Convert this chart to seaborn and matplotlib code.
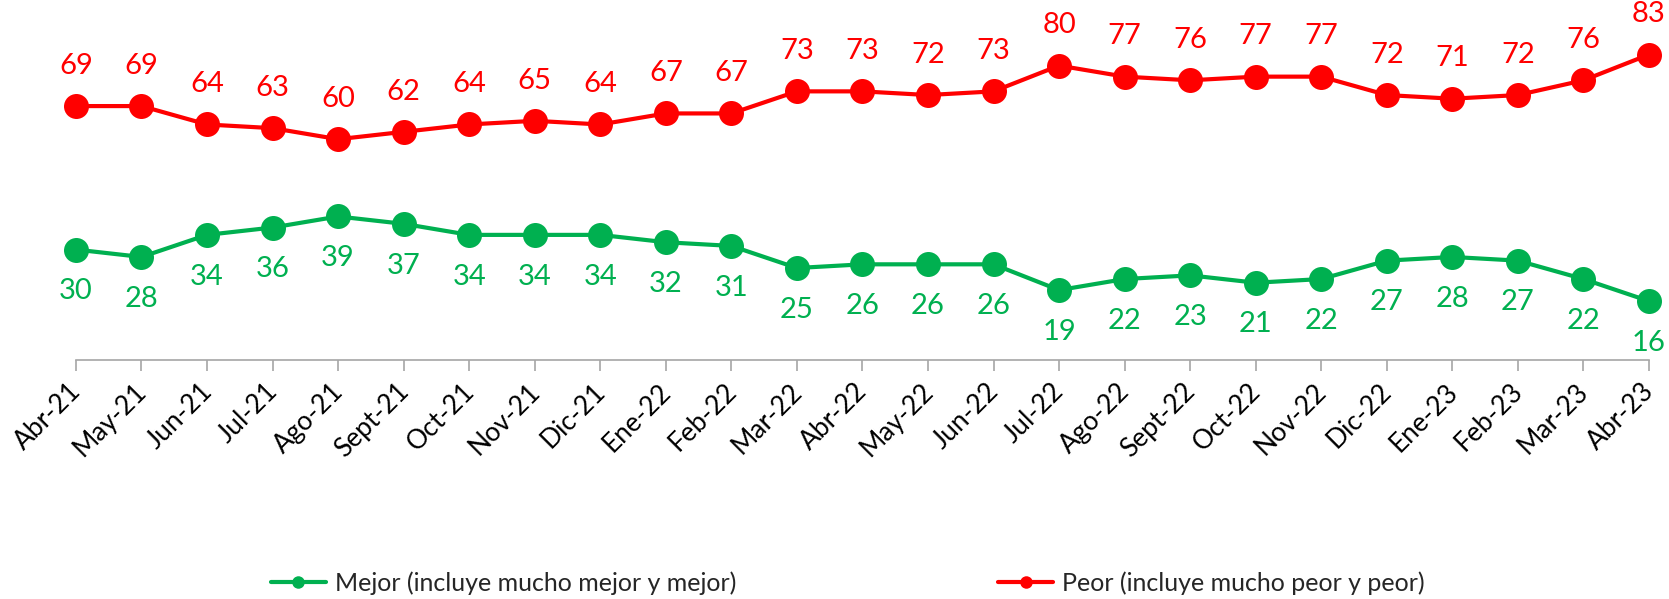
import pandas as pd
import matplotlib
matplotlib.use('Agg')
import matplotlib.pyplot as plt
import matplotlib.transforms as mtransforms
import seaborn as sns

# data
meses = ['Abr-21', 'May-21', 'Jun-21', 'Jul-21', 'Ago-21', 'Sept-21', 'Oct-21',
         'Nov-21', 'Dic-21', 'Ene-22', 'Feb-22', 'Mar-22', 'Abr-22', 'May-22',
         'Jun-22', 'Jul-22', 'Ago-22', 'Sept-22', 'Oct-22', 'Nov-22', 'Dic-22',
         'Ene-23', 'Feb-23', 'Mar-23', 'Abr-23']
mejor = [30, 28, 34, 36, 39, 37, 34, 34, 34, 32, 31, 25, 26, 26, 26, 19, 22, 23,
         21, 22, 27, 28, 27, 22, 16]
peor = [69, 69, 64, 63, 60, 62, 64, 65, 64, 67, 67, 73, 73, 72, 73, 80, 77, 76,
        77, 77, 72, 71, 72, 76, 83]

lbl_mejor = 'Mejor (incluye mucho mejor y mejor)'
lbl_peor = 'Peor (incluye mucho peor y peor)'

df = pd.DataFrame({
    'mes': meses * 2,
    'valor': mejor + peor,
    'serie': [lbl_mejor] * len(meses) + [lbl_peor] * len(meses),
})

verde = '#00B050'
rojo = '#FF0000'

sns.set_style('white')
plt.rcParams['font.family'] = ['Lato', 'DejaVu Sans']

fig = plt.figure(figsize=(16.69, 5.99), dpi=100)
ax = fig.add_axes([0.0455, 1 - 360 / 599, 0.988 - 0.0455, (360 - 28.8) / 599])

sns.lineplot(data=df, x='mes', y='valor', hue='serie',
             palette={lbl_mejor: verde, lbl_peor: rojo},
             marker='o', markersize=18, markeredgewidth=0, linewidth=3,
             ax=ax, clip_on=False)

for i, v in enumerate(peor):
    ax.annotate(str(v), (i, v), xytext=(0, 29), textcoords='offset points',
                ha='center', va='center', fontsize=21, color=rojo)
for i, v in enumerate(mejor):
    ax.annotate(str(v), (i, v), xytext=(0, -30), textcoords='offset points',
                ha='center', va='center', fontsize=21, color=verde)

ax.set_xlim(0, len(meses) - 1)
ax.set_ylim(0, 90)
ax.set_xlabel('')
ax.set_ylabel('')
ax.set_yticks([])
ax.set_xticks(range(len(meses)))
ax.set_xticklabels(meses, rotation=45, ha='right', fontsize=19, color='#000000')
ax.tick_params(axis='x', direction='out', length=8, width=1.2, color='#A6A6A6',
               pad=7, bottom=True)
# shift the rotated labels a little to the right, as in the original
shift = mtransforms.ScaledTranslation(10 / 100, 2 / 100, fig.dpi_scale_trans)
for lab in ax.get_xticklabels():
    lab.set_transform(lab.get_transform() + shift)

for s in ['top', 'left', 'right']:
    ax.spines[s].set_visible(False)
ax.spines['bottom'].set_color('#A6A6A6')
ax.spines['bottom'].set_linewidth(1.2)

handles, labels = ax.get_legend_handles_labels()
ax.get_legend().remove()
for h in handles:
    h.set_markersize(9)
    h.set_linewidth(3)
fig.legend(handles, labels, loc='center', bbox_to_anchor=(0.508, 1 - 583 / 599),
           ncol=2, frameon=False, fontsize=18, handlelength=2.2,
           handletextpad=0.35, columnspacing=10.5)

fig.savefig('out.png', dpi=100)
